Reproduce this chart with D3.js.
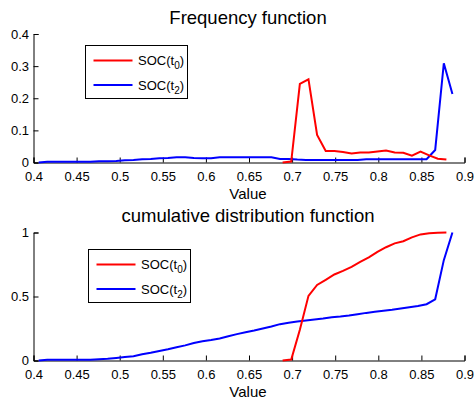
<!DOCTYPE html>
<html>
<head>
<meta charset="utf-8">
<script src="https://cdn.jsdelivr.net/npm/d3@7"></script>
<style>
    body { margin: 0; background: #fff; }
    svg { display: block; font-family: "Liberation Sans", Arial, sans-serif; }
    .tick-label { font-size: 13px; fill: #000; }
</style>
</head>
<body>
<svg width="475" height="406"></svg>
<script>
// bin centres of SOC(t0) and SOC(t2)
const xRed = [0.689, 0.699, 0.709, 0.719, 0.729, 0.739, 0.749, 0.759, 0.769, 0.779,
    0.789, 0.799, 0.809, 0.819, 0.829, 0.839, 0.849, 0.859, 0.869, 0.879];
const xBlue = [0.406, 0.416, 0.426, 0.436, 0.446, 0.456, 0.466, 0.476, 0.486, 0.496,
    0.506, 0.516, 0.526, 0.536, 0.546, 0.556, 0.566, 0.576, 0.586, 0.596,
    0.606, 0.616, 0.626, 0.636, 0.646, 0.656, 0.666, 0.676, 0.686, 0.696,
    0.706, 0.716, 0.726, 0.736, 0.746, 0.756, 0.766, 0.776, 0.786, 0.796,
    0.806, 0.816, 0.826, 0.836, 0.846, 0.856, 0.866, 0.876, 0.886];

// frequency function
const freqRed = [0.000, 0.003, 0.245, 0.259, 0.086, 0.036, 0.036, 0.033, 0.028, 0.031,
    0.031, 0.034, 0.037, 0.031, 0.030, 0.021, 0.034, 0.022, 0.012, 0.009];
const freqBlue = [0.000, 0.002, 0.002, 0.002, 0.002, 0.002, 0.002, 0.004, 0.004, 0.005,
    0.007, 0.008, 0.010, 0.011, 0.013, 0.014, 0.016, 0.016, 0.014, 0.013,
    0.013, 0.016, 0.016, 0.016, 0.016, 0.016, 0.016, 0.016, 0.011, 0.011,
    0.009, 0.008, 0.008, 0.008, 0.008, 0.008, 0.008, 0.008, 0.010, 0.010,
    0.010, 0.010, 0.010, 0.010, 0.010, 0.010, 0.039, 0.309, 0.213];

// cumulative distribution function
const cdfRed = [0.000, 0.008, 0.240, 0.505, 0.590, 0.630, 0.672, 0.700, 0.732, 0.770,
    0.805, 0.848, 0.885, 0.915, 0.932, 0.962, 0.985, 0.995, 0.998, 1.000];
const cdfBlue = [0.000, 0.005, 0.005, 0.005, 0.005, 0.005, 0.006, 0.010, 0.013, 0.020,
    0.027, 0.034, 0.048, 0.060, 0.075, 0.088, 0.103, 0.118, 0.136, 0.150,
    0.160, 0.172, 0.190, 0.206, 0.220, 0.234, 0.250, 0.266, 0.284, 0.295,
    0.304, 0.312, 0.320, 0.328, 0.338, 0.344, 0.352, 0.362, 0.372, 0.380,
    0.388, 0.396, 0.406, 0.416, 0.426, 0.440, 0.478, 0.784, 1.000];

const xTicks = [0.4, 0.45, 0.5, 0.55, 0.6, 0.65, 0.7, 0.75, 0.8, 0.85, 0.9];
const freqTicks = [0, 0.1, 0.2, 0.3, 0.4];
const cdfTicks = [0, 0.5, 1];
const seriesNames = ["0", "2"];
const seriesColors = ["#ff0000", "#0000ff"];

const svg = d3.select("svg");

function drawPanel(opt) {
    const x = d3.scaleLinear().domain([0.4, 0.9]).range([33.5, 464.5]);
    const y = d3.scaleLinear().domain(opt.yDomain).range([opt.bottom, opt.top]);
    const g = svg.append("g");

    // axes, ticks pointing inside
    const xAxis = d3.axisBottom(x).tickValues(xTicks).tickSize(-5).tickPadding(9)
        .tickFormat(d => String(+d.toFixed(2)));
    const gx = g.append("g").attr("transform", `translate(0,${opt.bottom})`).call(xAxis);
    const yAxis = d3.axisLeft(y).tickValues(opt.yTicks).tickSize(-5).tickPadding(9)
        .tickFormat(d => String(d));
    const gy = g.append("g").attr("transform", "translate(33.5,0)").call(yAxis);
    [gx, gy].forEach(a => {
        a.select(".domain").attr("stroke", "#000");
        a.selectAll(".tick line").attr("stroke", "#000");
        a.selectAll(".tick text").attr("class", "tick-label").attr("font-family", null).attr("font-size", null);
    });
    gy.selectAll(".tick text").attr("x", -4.5);

    // lines
    const line = d3.line().x(d => x(d[0])).y(d => y(d[1]));
    g.append("path").datum(d3.zip(xBlue, opt.blue))
        .attr("d", line).attr("fill", "none").attr("stroke", seriesColors[1]).attr("stroke-width", 2);
    g.append("path").datum(d3.zip(xRed, opt.red))
        .attr("d", line).attr("fill", "none").attr("stroke", seriesColors[0]).attr("stroke-width", 2);

    // title and x label
    g.append("text").attr("x", 248).attr("y", opt.titleY).attr("text-anchor", "middle")
        .style("font-size", "18.5px").text(opt.title);
    g.append("text").attr("x", 248).attr("y", opt.labelY).attr("text-anchor", "middle")
        .style("font-size", "15px").text("Value");

    // legend
    const lg = g.append("g").attr("transform", `translate(${opt.legend[0]},${opt.legend[1]})`);
    lg.append("rect").attr("x", 0.5).attr("y", 0.5).attr("width", 102).attr("height", 53)
        .attr("fill", "#fff").attr("stroke", "#000");
    seriesNames.forEach((s, i) => {
        const ly = 15.5 + i * 24.5;
        lg.append("line").attr("x1", 8.5).attr("x2", 47.5).attr("y1", ly).attr("y2", ly)
            .attr("stroke", seriesColors[i]).attr("stroke-width", 2);
        const t = lg.append("text").attr("x", 53).attr("y", ly + 4.5).style("font-size", "13px");
        t.append("tspan").text("SOC(t");
        t.append("tspan").attr("dy", 4).style("font-size", "10px").text(s);
        t.append("tspan").attr("dy", -4).text(")");
    });
}

drawPanel({
    top: 34, bottom: 162.5, yDomain: [0, 0.4], yTicks: freqTicks,
    red: freqRed, blue: freqBlue, title: "Frequency function",
    titleY: 24, labelY: 199, legend: [85, 45]
});

drawPanel({
    top: 232.5, bottom: 360.5, yDomain: [0, 1], yTicks: cdfTicks,
    red: cdfRed, blue: cdfBlue, title: "cumulative distribution function",
    titleY: 221.5, labelY: 396.5, legend: [88, 249]
});
</script>
</body>
</html>
